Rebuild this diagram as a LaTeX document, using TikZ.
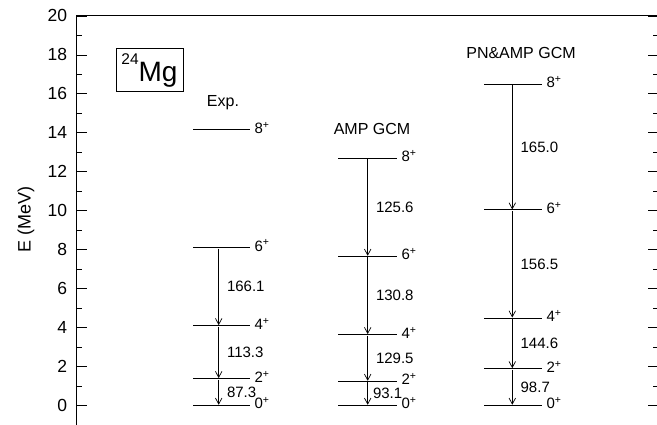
\documentclass[tikz,border=0pt]{standalone}
\usepackage{fontspec}
\setmainfont{Liberation Sans}
\usetikzlibrary{arrows.meta}

\begin{document}
\begin{tikzpicture}[>={Straight Barb[length=6pt,width=6.5pt]},auto,x=1pt,y=19.47pt,semithick]
  \tikzstyle{level}=[line width=1pt]
  \tikzstyle{trans}=[->,line width=0.7pt,shorten <=1pt,shorten >=0.5pt]
  \tikzstyle{spin}=[anchor=mid west,inner sep=4pt,yshift=-1pt,font=\fontsize{15}{15}\selectfont]
  \tikzstyle{rate}=[inner sep=8pt,font=\fontsize{15}{15}\selectfont]
  \tikzstyle{head}=[font=\fontsize{16}{16}\selectfont]
  \tikzstyle{ticklab}=[anchor=east,inner sep=0pt,font=\fontsize{17.5}{17.5}\selectfont]

  \useasboundingbox (0,-0.962) rectangle (657,20.816);

  % frame and ticks
  \draw[line width=1pt] (76,-1) -- (76,20) -- (659,20) -- (659,-1);
  \foreach \e in {0,2,...,20} {
    \draw (76,\e) -- (87,\e);
    \draw (659,\e) -- (648,\e);
    \node[ticklab] at (67.5,\e) {\e};
  }
  \foreach \e in {1,3,...,19} {
    \draw (76,\e) -- (82,\e);
    \draw (659,\e) -- (653,\e);
  }
  \node[rotate=90,font=\fontsize{18}{18}\selectfont] (elabel) at (26,9.54) {E (MeV)};

  \node[draw,line width=0.8pt,minimum width=67pt,minimum height=43pt,inner sep=0pt]
    (nucl) at (149.5,17.2)
    {\fontsize{28}{28}\selectfont\raisebox{0.62em}{\fontsize{15.5}{15.5}\selectfont 24}Mg};

  % Exp.
  \node[head] (exp) at (223,15.53) {Exp.};
  \draw[level] (193,14.14) -- (250,14.14) node[spin] (x8) {8\textsuperscript{+}};
  \draw[level] (193,8.10) -- (250,8.10) node[spin] (x6) {6\textsuperscript{+}};
  \draw[level] (193,4.09) -- (250,4.09) node[spin] (x4) {4\textsuperscript{+}};
  \draw[level] (193,1.37) -- (250,1.37) node[spin] (x2) {2\textsuperscript{+}};
  \draw[level] (193,0) -- (250,0) node[spin] (x0) {0\textsuperscript{+}};
  \coordinate (ex6) at (218.7,8.10);
  \coordinate (ex4) at (218.7,4.09);
  \coordinate (ex2) at (218.7,1.37);
  \coordinate (ex0) at (218.7,0);

  % AMP GCM
  \node[head] (amp) at (372,14.19) {AMP GCM};
  \draw[level] (338,12.69) -- (397,12.69) node[spin] (a8) {8\textsuperscript{+}};
  \draw[level] (338,7.65) -- (397,7.65) node[spin] (a6) {6\textsuperscript{+}};
  \draw[level] (338,3.63) -- (397,3.63) node[spin] (a4) {4\textsuperscript{+}};
  \draw[level] (338,1.23) -- (397,1.23) node[spin] (a2) {2\textsuperscript{+}};
  \draw[level] (338,0) -- (397,0) node[spin] (a0) {0\textsuperscript{+}};
  \coordinate (ea8) at (367.7,12.69);
  \coordinate (ea6) at (367.7,7.65);
  \coordinate (ea4) at (367.7,3.63);
  \coordinate (ea2) at (367.7,1.23);
  \coordinate (ea0) at (367.7,0);

  % PN&AMP GCM
  \node[head] (pnamp) at (521,18.11) {PN\&AMP GCM};
  \draw[level] (484,16.49) -- (542,16.49) node[spin] (p8) {8\textsuperscript{+}};
  \draw[level] (484,10.03) -- (542,10.03) node[spin] (p6) {6\textsuperscript{+}};
  \draw[level] (484,4.48) -- (542,4.48) node[spin] (p4) {4\textsuperscript{+}};
  \draw[level] (484,1.88) -- (542,1.88) node[spin] (p2) {2\textsuperscript{+}};
  \draw[level] (484,0) -- (542,0) node[spin] (p0) {0\textsuperscript{+}};
  \coordinate (ep8) at (512.3,16.49);
  \coordinate (ep6) at (512.3,10.03);
  \coordinate (ep4) at (512.3,4.48);
  \coordinate (ep2) at (512.3,1.88);
  \coordinate (ep0) at (512.3,0);

  \path (ex6) edge[trans] node[rate] {166.1} (ex4)
        (ex4) edge[trans] node[rate] {113.3} (ex2)
        (ex2) edge[trans] node[rate] {87.3} (ex0)
        (ea8) edge[trans] node[rate] {125.6} (ea6)
        (ea6) edge[trans] node[rate] {130.8} (ea4)
        (ea4) edge[trans] node[rate] {129.5} (ea2)
        (ea2) edge[trans] node[rate,inner sep=5pt] {93.1} (ea0)
        (ep8) edge[trans] node[rate] {165.0} (ep6)
        (ep6) edge[trans] node[rate] {156.5} (ep4)
        (ep4) edge[trans] node[rate] {144.6} (ep2)
        (ep2) edge[trans] node[rate] {98.7} (ep0)
  ; %end path

\end{tikzpicture}
\end{document}
